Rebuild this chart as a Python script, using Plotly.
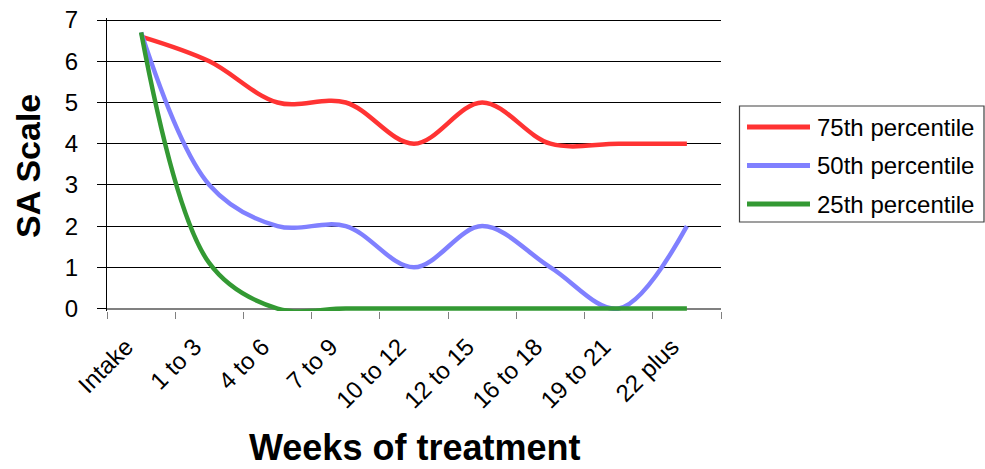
import plotly.graph_objects as go

# Weeks-of-treatment groups and SA Scale percentiles
categories = ["Intake", "1 to 3", "4 to 6", "7 to 9", "10 to 12",
              "12 to 15", "16 to 18", "19 to 21", "22 plus"]
p75 = [6.6, 6.0, 5.0, 5.0, 4.0, 5.0, 4.0, 4.0, 4.0]
p50 = [6.7, 3.0, 2.0, 2.0, 1.0, 2.0, 1.0, 0.0, 2.0]
p25 = [6.7, 1.1, 0.0, 0.0, 0.0, 0.0, 0.0, 0.0, 0.0]
y_ticks = [0, 1, 2, 3, 4, 5, 6, 7]

series = [
    ("75th percentile", p75, "#FF3333"),
    ("50th percentile", p50, "#8080FF"),
    ("25th percentile", p25, "#339933"),
]

FONT = "Arial, Liberation Sans, sans-serif"
W, H = 985, 469
L, R, T, B = 107, 264, 18, 158
PW, PH = W - L - R, H - T - B


def px(x):
    """Pixel column -> paper x."""
    return (x - L) / PW


def py(y):
    """Pixel row -> paper y."""
    return (H - B - y) / PH


fig = go.Figure()
for name, vals, color in series:
    fig.add_trace(go.Scatter(
        x=categories, y=vals, name=name, mode="lines",
        line=dict(color=color, width=4.5, shape="spline", smoothing=1),
        showlegend=False,
    ))

annotations = []
shapes = []

# axis titles
annotations.append(dict(
    text="<b>Weeks of treatment</b>", xref="paper", yref="paper",
    x=px(414), y=py(447), xanchor="center", yanchor="middle", showarrow=False,
    font=dict(family=FONT, size=36, color="black"),
))
annotations.append(dict(
    text="<b>SA Scale</b>", xref="paper", yref="paper",
    x=px(28), y=py(166), xanchor="center", yanchor="middle", showarrow=False,
    textangle=-90, font=dict(family=FONT, size=34, color="black"),
))

# legend box
shapes.append(dict(type="rect", xref="paper", yref="paper",
                   x0=px(739.5), x1=px(984), y0=py(222), y1=py(106),
                   line=dict(color="#404040", width=1.2), fillcolor="white"))
for k, (name, vals, color) in enumerate(series):
    yy = 127 + 38.5 * k
    shapes.append(dict(type="line", xref="paper", yref="paper",
                       x0=px(747), x1=px(810), y0=py(yy), y1=py(yy),
                       line=dict(color=color, width=5)))
    annotations.append(dict(
        text=name, xref="paper", yref="paper", x=px(815), y=py(yy),
        xanchor="left", yanchor="middle", showarrow=False,
        font=dict(family=FONT, size=24, color="black"),
    ))

fig.update_layout(
    width=W, height=H,
    margin=dict(l=L, r=R, t=T, b=B, autoexpand=False),
    paper_bgcolor="white", plot_bgcolor="white",
    font=dict(family=FONT, color="black"),
    annotations=annotations, shapes=shapes,
    showlegend=False,
)
fig.update_xaxes(
    type="category", range=[-0.5, len(categories) - 0.5],
    tickson="boundaries", ticks="outside", ticklen=7, tickcolor="#808080",
    tickangle=-45, tickfont=dict(family=FONT, size=24, color="black"),
    ticklabelstandoff=16, ticklabelshift=-15,
    showgrid=False, showline=False, zeroline=False, automargin=False,
)
fig.update_yaxes(
    range=[-0.06, 7.05], tickvals=y_ticks, ticks="outside", ticklen=9,
    tickcolor="black", tickfont=dict(family=FONT, size=24, color="black"),
    ticklabelstandoff=14, automargin=False,
    showgrid=True, gridcolor="black", gridwidth=1,
    showline=True, linecolor="black", linewidth=1,
    zeroline=True, zerolinecolor="#808080", zerolinewidth=1.5,
)

fig.write_html("out.html")
